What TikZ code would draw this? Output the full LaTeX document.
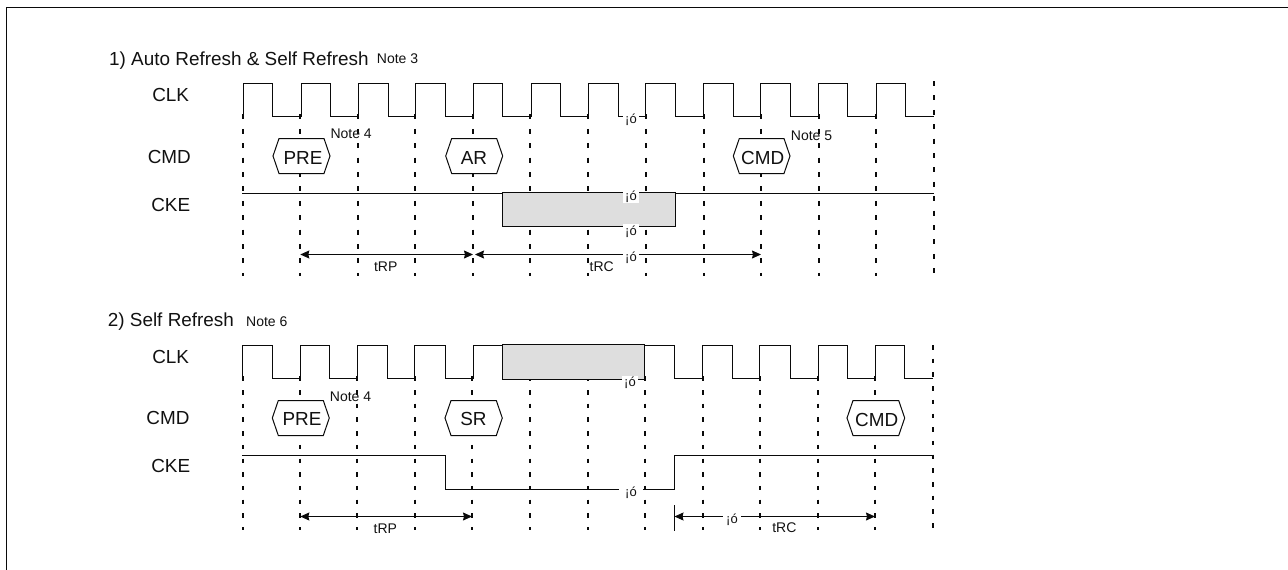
\documentclass[tikz,border=0pt]{standalone}
\usepackage{fontspec}
\setmainfont{Liberation Sans}
\usetikzlibrary{arrows.meta}
\definecolor{ink}{HTML}{0A0A0A}
\definecolor{txt}{HTML}{111111}
\definecolor{busy}{HTML}{DEDEDE}
\tikzset{
  wave/.style={draw=ink,line width=1.1pt,line join=miter},
  tick/.style={draw=ink,line width=2pt,dash pattern=on 5pt off 9.4pt},
  ticklow/.style={draw=ink,line width=2pt,dash pattern=on 4.5pt off 9.2pt},
  hexshape/.style={draw=ink,line width=1pt,fill=white},
  span/.style={draw=ink,line width=1pt,{Stealth[length=9pt,width=8pt,inset=1pt]}-{Stealth[length=9pt,width=8pt,inset=1pt]}},
  busybox/.style={draw=ink,line width=1.1pt,fill=busy},
  big/.style={inner sep=0pt,anchor=base,text=txt,font=\fontsize{18.9}{20}\selectfont},
  bigleft/.style={big,anchor=base west},
  small/.style={inner sep=0pt,anchor=base,text=txt,font=\fontsize{14}{16}\selectfont},
  smallleft/.style={small,anchor=base west},
  gap/.style={inner sep=0pt,anchor=base,fill=white,text=txt,text height=11pt,text depth=2.7pt,font=\fontsize{13}{14}\selectfont},
}
\newcommand{\hexa}[4]{% left, right, top, bottom
  \path[hexshape] (#1,{(#3+#4)/2}) -- ({#1+6},#3) -- ({#2-6},#3) -- (#2,{(#3+#4)/2}) -- ({#2-6},#4) -- ({#1+6},#4) -- cycle;}
\begin{document}
\begin{tikzpicture}[x=1pt,y=-1pt]
\useasboundingbox (0,0) rectangle (1288,570);
% frame
\draw[draw=ink,line width=1pt] (6.5,570) -- (6.5,7.5) -- (1288,7.5);
% titles
\node[bigleft] (t1) at (109,65) {1) Auto Refresh \& Self Refresh};
\node[smallleft] (n3) at (376.7,63.3) {Note 3};
\node[bigleft] (t2) at (107.7,326.7) {2) Self Refresh};
\node[smallleft] (n6) at (246,326) {Note 6};
% signal names
\node[big] (clka) at (170.7,101) {CLK};
\node[big] (cmda) at (169.3,163) {CMD};
\node[big] (ckea) at (170.7,211.7) {CKE};
\node[big] (clkb) at (170.7,363) {CLK};
\node[big] (cmdb) at (168,424.7) {CMD};
\node[big] (ckeb) at (170.7,472.7) {CKE};
% clock grid, upper
\foreach \x in {243,300,358,415,473,530,588,646,704,761,819,876}
  \draw[tick] (\x,114.4) -- (\x,276);
\draw[tick] (934,81) -- (934,276);
% clock grid, lower
\foreach \x in {243,300,357,415,472,530,588,645,703,760,818,875}
  \draw[ticklow] (\x,376.3) -- (\x,530);
\draw[ticklow] (933,345) -- (933,530);
% upper waveforms
\draw[wave] (243.5,116.5) -- (243.5,83.5) -- (272.5,83.5) -- (272.5,116.5) -- (301.5,116.5) -- (301.5,83.5) -- (330.5,83.5) -- (330.5,116.5) -- (358.5,116.5) -- (358.5,83.5) -- (388.5,83.5) -- (388.5,116.5) -- (415.5,116.5) -- (415.5,83.5) -- (445.5,83.5) -- (445.5,116.5) -- (473.5,116.5) -- (473.5,83.5) -- (502.5,83.5) -- (502.5,116.5) -- (531.5,116.5) -- (531.5,83.5) -- (560.5,83.5) -- (560.5,116.5) -- (588.5,116.5) -- (588.5,83.5) -- (618.5,83.5) -- (618.5,116.5) -- (645.5,116.5) -- (645.5,83.5) -- (675.5,83.5) -- (675.5,116.5) -- (703.5,116.5) -- (703.5,83.5) -- (733.5,83.5) -- (733.5,116.5) -- (760.5,116.5) -- (760.5,83.5) -- (790.5,83.5) -- (790.5,116.5) -- (818.5,116.5) -- (818.5,83.5) -- (847.5,83.5) -- (847.5,116.5) -- (876.5,116.5) -- (876.5,83.5) -- (905.5,83.5) -- (905.5,116.5) -- (933.5,116.5);
\draw[wave] (242,193.5) -- (934,193.5);
\path[busybox] (502.5,192.5) rectangle (675.5,226.5);
% upper commands
\hexa{273}{330}{138.5}{173.5}
\node[big] (prea) at (303,164) {PRE};
\hexa{445.7}{502.7}{138.5}{173.5}
\node[big] (ar) at (474,164) {AR};
\hexa{733.3}{790}{138.5}{173.5}
\node[big] (cmdx) at (762.7,164.3) {CMD};
\node[smallleft] (n4a) at (330.3,138.7) {Note 4};
\node[smallleft] (n5) at (790.7,140) {Note 5};
% upper spans
\coordinate (a1) at (300.3,254.5);
\coordinate (a2) at (473,254.5);
\coordinate (a3) at (475,254.5);
\coordinate (a4) at (761,254.5);
\draw[span] (a1) -- (a2);
\draw[span] (a3) -- (a4);
\node[small] (trpa) at (385.7,271) {tRP};
\node[small] (trca) at (601.7,271) {tRC};
% upper stray glyphs
\node[gap,minimum width=16pt] (g1) at (631,123.3) {¡ó};
\node[gap,minimum width=16pt] (g2) at (631,200) {¡ó};
\node[gap,minimum width=16pt] (g3) at (631,235) {¡ó};
\node[gap,minimum width=16pt] (g4) at (631,261.7) {¡ó};
% lower waveforms
\draw[wave] (242.5,378.5) -- (242.5,345.5) -- (272.5,345.5) -- (272.5,378.5) -- (300.5,378.5) -- (300.5,345.5) -- (329.5,345.5) -- (329.5,378.5) -- (357.5,378.5) -- (357.5,345.5) -- (387.5,345.5) -- (387.5,378.5) -- (414.5,378.5) -- (414.5,345.5) -- (445.5,345.5) -- (445.5,378.5) -- (473.5,378.5) -- (473.5,345.5) -- (674.5,345.5) -- (674.5,378.5) -- (702.5,378.5) -- (702.5,345.5) -- (732.5,345.5) -- (732.5,378.5) -- (759.5,378.5) -- (759.5,345.5) -- (790.5,345.5) -- (790.5,378.5) -- (818.5,378.5) -- (818.5,345.5) -- (847.5,345.5) -- (847.5,378.5) -- (875.5,378.5) -- (875.5,345.5) -- (904.5,345.5) -- (904.5,378.5) -- (933,378.5);
\path[busybox] (502.5,344.5) rectangle (644.5,379.5);
\draw[wave] (242,455.5) -- (445.5,455.5) -- (445.5,489.5) -- (674.5,489.5) -- (674.5,455.5) -- (934,455.5);
% lower commands
\hexa{272.3}{329.3}{400.5}{435.5}
\node[big] (preb) at (302,425.7) {PRE};
\hexa{445}{502.3}{400.5}{435.5}
\node[big] (sr) at (473.5,425.7) {SR};
\hexa{847}{904.7}{400.5}{435.5}
\node[big] (cmdy) at (876.7,426) {CMD};
\node[smallleft] (n4b) at (329.7,401) {Note 4};
% lower spans
\coordinate (b1) at (300.3,516.5);
\coordinate (b2) at (472,516.5);
\coordinate (b3) at (674.5,516.5);
\coordinate (b4) at (875,516.5);
\coordinate (b5) at (674.5,505);
\coordinate (b6) at (674.5,530.7);
\draw[span] (b1) -- (b2);
\draw[span] (b3) -- (b4);
\draw[draw=ink,line width=1pt] (b5) -- (b6);
\node[small] (trpb) at (385.3,533.3) {tRP};
\node[small] (trcb) at (784.3,532.7) {tRC};
% lower stray glyphs
\node[gap,minimum width=16pt] (g5) at (630,386.7) {¡ó};
\node[gap,minimum width=24pt] (g6) at (631,496.7) {¡ó};
\node[gap,minimum width=18pt] (g7) at (732,523.3) {¡ó};
\end{tikzpicture}
\end{document}
